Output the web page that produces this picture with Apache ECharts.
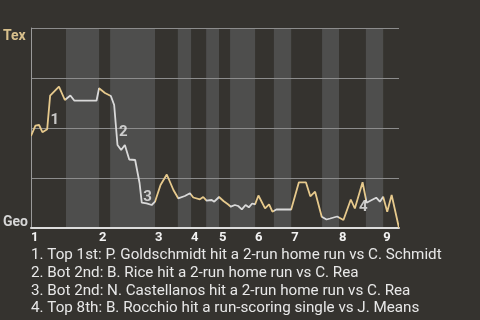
<!DOCTYPE html>
<html><head><meta charset="utf-8">
<script src="https://cdn.jsdelivr.net/npm/echarts@6/dist/echarts.min.js"></script>
<style>html,body{margin:0;padding:0;background:#35332f}#c{width:480px;height:320px}</style>
</head><body><div id="c"></div>
<script>
// game progress (0-100) and Tex win probability
const progress = [0,1.2,2.2,3.1,4.4,5.2,7.6,9.2,10.7,11.8,17.8,18.5,20.1,21.7,22.6,23.5,24.5,25.5,26.7,28.3,29.5,30.1,31.4,32.8,33.7,35.2,36.9,38.7,40.0,41.8,43.2,44.1,45.9,46.8,47.7,49.1,49.8,51.1,52.3,53.6,54.3,55.4,56.3,57.3,58.3,59.2,60.1,60.9,61.8,63.6,64.7,65.6,66.8,69.0,70.7,72.8,74.7,75.9,77.2,79.0,80.3,81.3,83.2,84.9,86.9,88.0,90.1,91.2,92.6,93.8,94.8,95.7,96.8,98.0,100];
const texWinProb = [0.46,0.512,0.515,0.479,0.494,0.662,0.707,0.64,0.6625,0.6365,0.6365,0.6985,0.675,0.66,0.615,0.415,0.39,0.415,0.3425,0.34,0.225,0.1265,0.1235,0.115,0.1315,0.215,0.2675,0.19,0.1485,0.16,0.1735,0.1525,0.1435,0.155,0.1365,0.14,0.1315,0.155,0.135,0.1175,0.1065,0.115,0.11,0.0935,0.115,0.1035,0.1225,0.1185,0.1625,0.0985,0.1185,0.0815,0.0935,0.0925,0.0925,0.2285,0.2285,0.1585,0.1815,0.0565,0.0425,0.0475,0.0575,0.04,0.1425,0.0975,0.2285,0.1265,0.14,0.1515,0.1315,0.1565,0.0815,0.165,0];
const topStarts = [0,18.5,33.7,43.5,51.1,60.9,70.7,83.7,95.7];
const botStarts = [9.5,21.5,39.9,47.6,54.1,66.0,79.1,91.0];
const gameEnd = 100;
const inningLabels = ['1','2','3','4','5','6','7','8','9'];
const noteMarks = ['1','2','3','4'];
const noteX = [6.5,25.1,31.7,90.3];
const noteY = [0.54,0.48,0.155,0.1015];
const notes = [
  '1. Top 1st: P. Goldschmidt hit a 2-run home run vs C. Schmidt',
  '2. Bot 2nd: B. Rice hit a 2-run home run vs C. Rea',
  '3. Bot 2nd: N. Castellanos hit a 2-run home run vs C. Rea',
  '4. Top 8th: B. Rocchio hit a run-scoring single vs J. Means'
];
const teamTop = 'Tex', teamBottom = 'Geo';

const YEL = '#e6c98c', WHT = '#d9d9d9';
const lineData = progress.map((x,i)=>[x, texWinProb[i]]);
const bands = botStarts.map((b,i)=>{
  const end = i+1 < topStarts.length ? topStarts[i+1] : gameEnd;
  return [{xAxis:b},{xAxis:end}];
});
const pieces = [];
topStarts.forEach((t,i)=>{
  const tEnd = i < botStarts.length ? botStarts[i] : gameEnd;
  pieces.push({gte:t, lt:tEnd, color:YEL});
  if (i < botStarts.length) {
    const bEnd = i+1 < topStarts.length ? topStarts[i+1] : gameEnd;
    pieces.push({gte:botStarts[i], lt:bEnd, color:WHT});
  }
});
pieces[pieces.length-1].lte = gameEnd; delete pieces[pieces.length-1].lt;

const chart = echarts.init(document.getElementById('c'));
chart.setOption({
  backgroundColor:'#35332f',
  animation:false,
  grid:{left:31,right:81,top:28,bottom:92},
  xAxis:{type:'value',min:0,max:gameEnd,z:3,
    axisLine:{show:true,lineStyle:{color:'#dddddd',width:2}},
    axisTick:{show:false},splitLine:{show:false},
    axisLabel:{customValues:topStarts,align:'left',margin:3,color:'#f2f2f2',fontSize:13,fontWeight:'bold',fontFamily:'Roboto',
      formatter:(v)=>{const i=topStarts.findIndex(t=>Math.abs(t-v)<1e-6);return i>=0?inningLabels[i]:'';}}},
  yAxis:{type:'value',min:0,max:1,interval:0.25,z:3,
    axisLine:{show:true,lineStyle:{color:'#9a9a9a',width:1}},
    axisTick:{show:false},axisLabel:{show:false},
    splitLine:{show:true,lineStyle:{color:'#8c8c8c',width:1}}},
  visualMap:{type:'piecewise',show:false,dimension:0,seriesIndex:1,pieces:pieces},
  series:[
    {type:'line',z:1,data:[],silent:true,
      markArea:{silent:true,itemStyle:{color:'#4e4e4d'},data:bands}},
    {type:'line',z:5,data:lineData,symbol:'none',lineStyle:{width:1.8}},
    {type:'scatter',z:6,symbolSize:0,data:noteX.map((x,i)=>[x,noteY[i]]),
      label:{show:true,position:'inside',color:'#eeeeee',fontSize:15,fontWeight:'bold',fontFamily:'Roboto',
        formatter:(p)=>noteMarks[p.dataIndex]}}
  ],
  graphic:[
    {type:'text',left:3,top:29,style:{text:teamTop,fill:'#d8c08c',font:'bold 14px Roboto'}},
    {type:'text',left:3,top:215,style:{text:teamBottom,fill:'#d6d6d6',font:'bold 14px Roboto'}}
  ].concat(notes.map((t,i)=>({type:'text',left:31,top:248+i*17.7,style:{text:t,fill:'#e8e8e8',font:'15.2px Roboto'}})))
});
</script></body></html>
